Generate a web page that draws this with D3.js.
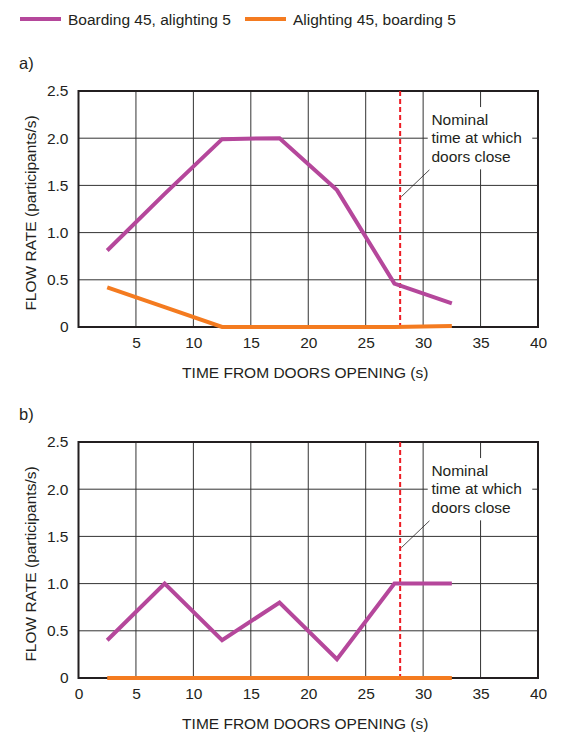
<!DOCTYPE html>
<html>
<head>
<meta charset="utf-8">
<script src="https://cdn.jsdelivr.net/npm/d3@7"></script>
<style>
  body { margin: 0; background: #fff; }
  svg { display: block; font-family: "Liberation Sans", Arial, Helvetica, sans-serif; }
</style>
</head>
<body>
<div id="chart"></div>
<script>
var width = 561, height = 732;

// data
var times = [2.5, 7.5, 12.5, 17.5, 22.5, 27.5, 32.5];
var boardingA = [0.81, 1.41, 1.99, 2.0, 1.45, 0.46, 0.25];
var alightingA = [0.42, 0.21, 0, 0, 0, 0, 0.01];
var boardingB = [0.4, 1.0, 0.4, 0.8, 0.2, 1.0, 1.0];
var alightingB = [0, 0, 0, 0, 0, 0, 0];
var xTicksA = [5, 10, 15, 20, 25, 30, 35, 40];
var xTicksB = [0, 5, 10, 15, 20, 25, 30, 35, 40];
var yTicks = [0, 0.5, 1.0, 1.5, 2.0, 2.5];
var doorClose = 28;
var seriesNames = ["Boarding 45, alighting 5", "Alighting 45, boarding 5"];
var colors = ["#b5479b", "#f47b20"];

var fs = 15.5;
var ink = "#231f20";

var svg = d3.select("#chart").append("svg")
  .attr("width", width)
  .attr("height", height);

// legend
var legendX = [20, 245];
seriesNames.forEach(function (name, i) {
  svg.append("line")
    .attr("x1", legendX[i]).attr("x2", legendX[i] + 41)
    .attr("y1", 19).attr("y2", 19)
    .attr("stroke", colors[i]).attr("stroke-width", 4);
  svg.append("text")
    .attr("x", legendX[i] + 48).attr("y", 24.5)
    .attr("font-size", fs).attr("fill", ink)
    .text(name);
});

var x = d3.scaleLinear().domain([0, 40]).range([78.5, 538]);

function panel(label, labelY, top, bottom, xTicks, boarding, alighting) {
  var y = d3.scaleLinear().domain([0, 2.5]).range([bottom, top]);
  var g = svg.append("g");

  g.append("text")
    .attr("x", 19).attr("y", labelY + 6)
    .attr("font-size", 16.5).attr("fill", ink)
    .text(label);

  // grid
  g.append("g").selectAll("line").data([5, 10, 15, 20, 25, 30, 35]).enter()
    .append("line")
    .attr("x1", function (d) { return x(d); }).attr("x2", function (d) { return x(d); })
    .attr("y1", top).attr("y2", bottom)
    .attr("stroke", "#333").attr("stroke-width", 1);
  g.append("g").selectAll("line").data([0.5, 1.0, 1.5, 2.0]).enter()
    .append("line")
    .attr("x1", x(0)).attr("x2", x(40))
    .attr("y1", function (d) { return y(d); }).attr("y2", function (d) { return y(d); })
    .attr("stroke", "#333").attr("stroke-width", 1);

  // frame
  g.append("rect")
    .attr("x", x(0)).attr("y", top)
    .attr("width", x(40) - x(0)).attr("height", bottom - top)
    .attr("fill", "none").attr("stroke", ink).attr("stroke-width", 2);

  // axes
  var xAxis = d3.axisBottom(x).tickValues(xTicks).tickSize(0).tickPadding(10)
    .tickFormat(d3.format("d"));
  g.append("g").attr("transform", "translate(0," + bottom + ")").call(xAxis)
    .call(function (s) { s.select(".domain").remove(); })
    .selectAll("text").attr("font-size", fs).attr("fill", ink)
    .attr("font-family", "Liberation Sans, Arial, sans-serif");

  var yAxis = d3.axisLeft(y).tickValues(yTicks).tickSize(0).tickPadding(10)
    .tickFormat(function (d) { return d === 0 ? "0" : d3.format(".1f")(d); });
  g.append("g").attr("transform", "translate(" + x(0) + ",0)").call(yAxis)
    .call(function (s) { s.select(".domain").remove(); })
    .selectAll("text").attr("font-size", fs).attr("fill", ink)
    .attr("font-family", "Liberation Sans, Arial, sans-serif");

  g.append("text")
    .attr("x", (x(0) + x(40)) / 2 - 3).attr("y", bottom + 50.5)
    .attr("text-anchor", "middle").attr("font-size", fs).attr("fill", ink)
    .text("TIME FROM DOORS OPENING (s)");

  g.append("text")
    .attr("transform", "translate(35.5," + ((top + bottom) / 2 + 4) + ") rotate(-90)")
    .attr("text-anchor", "middle").attr("font-size", fs).attr("fill", ink)
    .text("FLOW RATE (participants/s)");

  // annotation box + text
  var ax = x(30.72);
  g.append("rect")
    .attr("x", x(30.4)).attr("y", y(2.33))
    .attr("width", x(39.5) - x(30.4)).attr("height", y(1.67) - y(2.33))
    .attr("fill", "#fff");
  var note = g.append("text").attr("font-size", fs).attr("fill", ink);
  ["Nominal", "time at which", "doors close"].forEach(function (t, i) {
    note.append("tspan").attr("x", ax).attr("y", y(2.145) + i * 18.5).text(t);
  });
  g.append("line")
    .attr("x1", x(30.55)).attr("y1", y(1.665))
    .attr("x2", x(28.1)).attr("y2", y(1.38))
    .attr("stroke", ink).attr("stroke-width", 0.8);

  // door close line
  g.append("line")
    .attr("x1", x(doorClose)).attr("x2", x(doorClose))
    .attr("y1", top).attr("y2", bottom)
    .attr("stroke", "#ed1c24").attr("stroke-width", 2)
    .attr("stroke-dasharray", "5,3");

  var line = d3.line()
    .x(function (d) { return x(d[0]); })
    .y(function (d) { return y(d[1]); });

  [alighting, boarding].forEach(function (vals, k) {
    var col = k === 0 ? colors[1] : colors[0];
    g.append("path")
      .datum(times.map(function (t, i) { return [t, vals[i]]; }))
      .attr("d", line)
      .attr("fill", "none").attr("stroke", col)
      .attr("stroke-width", 4).attr("stroke-linejoin", "miter");
  });
}

panel("a)", 63, 91, 327, xTicksA, boardingA, alightingA);
panel("b)", 414, 442, 678, xTicksB, boardingB, alightingB);
</script>
</body>
</html>
